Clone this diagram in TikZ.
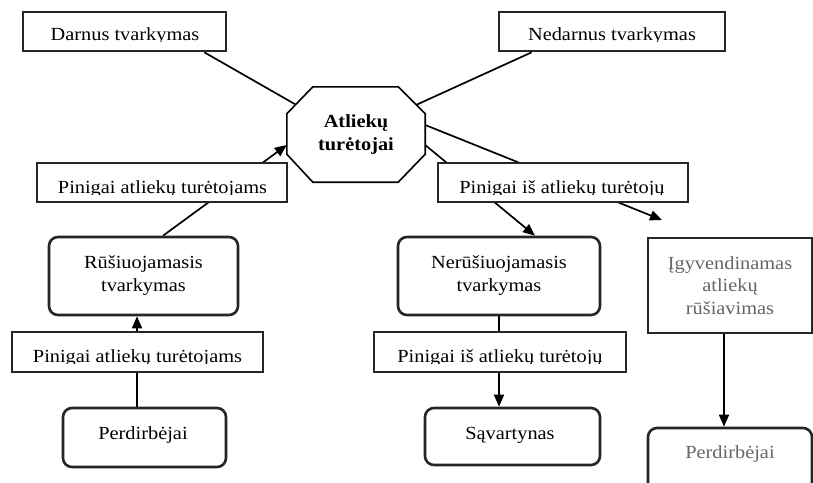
\documentclass[tikz,border=0pt]{standalone}
\usepackage{fontspec}
\setmainfont{Liberation Serif}[FakeStretch=1.1]
\usetikzlibrary{arrows.meta,calc}
\pgfdeclarelayer{bg}\pgfsetlayers{bg,main}
\begin{document}
\begin{tikzpicture}[x=1pt,y=-1pt,
  box/.style={draw=black!85, line width=2.6pt, fill=white, inner sep=0pt},
  rbox/.style={box, rounded corners=9pt},
  lbl/.style={inner sep=0pt, font=\fontsize{18.5}{23}\selectfont, align=center},
  glbl/.style={lbl, text=black!60, font=\fontsize{18.5}{22.5}\selectfont},
  con/.style={line width=1.7pt, black},
  arr/.style={con, -{Triangle[length=12pt,width=10pt]}},
  tickend/.style={con, -{Bar[width=7pt,line width=1pt]}},
]
\useasboundingbox (0,0) rectangle (813,482);

% boxes
\node[box, minimum width=203pt, minimum height=39pt] (darnus) at (124.5,31.5) {};
\node[box, minimum width=226pt, minimum height=39pt] (nedarnus) at (612,31.5) {};
\node[box, minimum width=250pt, minimum height=39pt] (pintl) at (162,182.5) {};
\node[box, minimum width=250pt, minimum height=39pt] (pintr) at (563,182.5) {};
\node[box, minimum width=251pt, minimum height=40pt] (pinbl) at (137.5,352) {};
\node[box, minimum width=252pt, minimum height=40pt] (pinbr) at (500,352) {};
\node[rbox, minimum width=189pt, minimum height=78pt, lbl] (rus) at (143.5,276) {Rūšiuojamasis\\tvarkymas};
\node[rbox, minimum width=202pt, minimum height=78pt, lbl] (nerus) at (499,276) {Nerūšiuojamasis\\tvarkymas};
\node[rbox, minimum width=163pt, minimum height=59pt] (perdl) at (144.5,437.5) {};
\node[rbox, minimum width=175pt, minimum height=57pt] (sav) at (512.5,436.5) {};
\node[box, minimum width=164pt, minimum height=95pt] (igyv) at (730,285.5) {};
\node[rbox, minimum width=164pt, minimum height=64pt] (perdr) at (730,460) {};

% labels
\node[glbl] (tigyv) at (igyv.center) {Įgyvendinamas\\atliekų\\rūšiavimas};
\node[lbl, anchor=base] (tperdl) at (143,439) {Perdirbėjai};
\node[lbl, anchor=base] (tsav) at (510,439) {Sąvartynas};
\node[glbl, anchor=base] (tperdr) at (730,458) {Perdirbėjai};

% labels whose descenders are cut by the frame
\begin{scope}
  \clip (darnus.north west) rectangle (darnus.east |- 0,41);
  \node[lbl, anchor=base] (tdarnus) at (125,40) {Darnus tvarkymas};
\end{scope}
\begin{scope}
  \clip (nedarnus.north west) rectangle (nedarnus.east |- 0,41);
  \node[lbl, anchor=base] (tnedarnus) at (612,40) {Nedarnus tvarkymas};
\end{scope}
\begin{scope}
  \clip (pintl.north west) rectangle (pintl.east |- 0,194.5);
  \node[lbl, anchor=base] (tpintl) at (162.5,193.5) {Pinigai atliekų turėtojams};
\end{scope}
\begin{scope}
  \clip (pintr.north west) rectangle (pintr.east |- 0,194.5);
  \node[lbl, anchor=base] (tpintr) at (562,193.5) {Pinigai iš atliekų turėtojų};
\end{scope}
\begin{scope}
  \clip (pinbl.north west) rectangle (pinbl.east |- 0,363);
  \node[lbl, anchor=base] (tpinbl) at (137.5,362) {Pinigai atliekų turėtojams};
\end{scope}
\begin{scope}
  \clip (pinbr.north west) rectangle (pinbr.east |- 0,363);
  \node[lbl, anchor=base] (tpinbr) at (500,362) {Pinigai iš atliekų turėtojų};
\end{scope}

% octagon
\node[lbl, font=\bfseries\fontsize{18.5}{23}\selectfont, minimum width=138pt, minimum height=95pt] (oct) at (356,134.5) {Atliekų\\turėtojai};
\draw[line width=1.6pt, fill=white]
  ($(oct.north west)+(26,0)$) -- ($(oct.north east)+(-27,0)$) --
  ($(oct.north east)+(0,27)$) -- ($(oct.south east)+(0,-28)$) --
  ($(oct.south east)+(-27,0)$) -- ($(oct.south west)+(26,0)$) --
  ($(oct.south west)+(0,-28)$) -- ($(oct.north west)+(0,27)$) -- cycle;
\node[lbl, font=\bfseries\fontsize{18.5}{23}\selectfont] (octtext) at (oct.center) {Atliekų\\turėtojai};

\coordinate (fe) at (662,220);

% connectors (behind the boxes)
\begin{pgfonlayer}{bg}
  \draw[tickend] ($(darnus.south east)+(-23,0)$) -- ($(oct.north west)+(11,19)$);
  \draw[tickend] ($(nedarnus.south west)+(34,0)$) -- ($(oct.north east)+(-11,19)$);
  \draw[arr] ($(rus.north)+(19.5,0)$) -- ($(oct.west)+(0,10.5)$);
  \draw[arr] ($(oct.east)+(0,-9.5)$) -- (fe);
  \draw[arr] ($(oct.east)+(0,10.5)$) -- ($(nerus.north)+(36,0)$);
  \draw[arr] ($(perdl.north)+(-7.5,0)$) -- ($(rus.south)+(-6.5,0)$);
  \draw[arr] (nerus.south) -- ($(sav.north)+(-13.5,0)$);
  \draw[arr] ($(igyv.south)+(-6,0)$) -- ($(perdr.north)+(-6,0)$);
\end{pgfonlayer}
\end{tikzpicture}
\end{document}
